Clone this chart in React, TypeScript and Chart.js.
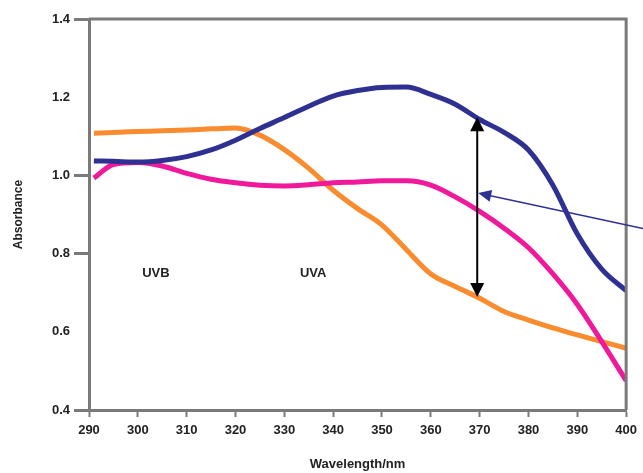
import React, { useEffect, useRef } from "react";
import { Chart, registerables } from "chart.js";

Chart.register(...registerables);

// Wavelength (nm) sample positions shared by the three spectra
const wavelengths = [291, 295, 300, 305, 310, 315, 320, 325, 330, 335, 340, 345, 350, 355, 360, 365, 370, 375, 380, 385, 390, 395, 400];

// Absorbance values
const blueSeries = [1.037, 1.036, 1.034, 1.038, 1.048, 1.065, 1.090, 1.120, 1.148, 1.177, 1.203, 1.217, 1.225, 1.226, 1.207, 1.182, 1.143, 1.110, 1.065, 0.975, 0.850, 0.760, 0.705];
const pinkSeries = [0.993, 1.028, 1.033, 1.024, 1.005, 0.990, 0.981, 0.975, 0.973, 0.976, 0.981, 0.983, 0.986, 0.986, 0.975, 0.945, 0.908, 0.865, 0.815, 0.748, 0.670, 0.575, 0.475];
const orangeSeries = [1.108, 1.110, 1.112, 1.114, 1.116, 1.119, 1.121, 1.103, 1.066, 1.018, 0.962, 0.915, 0.873, 0.810, 0.748, 0.716, 0.686, 0.652, 0.630, 0.610, 0.592, 0.575, 0.558];

// Axis ranges and tick labels
const xMin = 290;
const xMax = 400;
const xStep = 10;
const yMin = 0.4;
const yMax = 1.4;
const yStep = 0.2;
const yLongTicks = [1.4, 1.0, 0.8, 0.4];

// Annotations
const arrowWavelength = 369.5;
const arrowTop = 1.149;
const arrowBottom = 0.689;
const pointerValue = 0.955;
const bandLabels = ["UVB", "UVA"];
const bandLabelX = [303.7, 335.9];
const bandLabelY = 0.75;

const BLUE = "#2e3192";
const PINK = "#f0199c";
const ORANGE = "#fb8b2f";
const AXIS = "#7a7a7a";
const TEXT = "#222222";
const FONT = "Liberation Sans, Arial, sans-serif";

const toPoints = (vals: number[]) => vals.map((v, i) => ({ x: wavelengths[i], y: v }));

const annotationPlugin = {
  id: "annot",
  afterDatasetsDraw(chart: any) {
    const { ctx, chartArea, scales } = chart;
    const xs = scales.x;
    const ys = scales.y;
    ctx.save();
    // top and right frame
    ctx.strokeStyle = AXIS;
    ctx.lineWidth = 3;
    ctx.beginPath();
    ctx.moveTo(chartArea.left, chartArea.top);
    ctx.lineTo(chartArea.right, chartArea.top);
    ctx.lineTo(chartArea.right, chartArea.bottom);
    ctx.stroke();

    // double arrow
    const ax = xs.getPixelForValue(arrowWavelength);
    const at = ys.getPixelForValue(arrowTop);
    const ab = ys.getPixelForValue(arrowBottom);
    ctx.strokeStyle = "#000";
    ctx.fillStyle = "#000";
    ctx.lineWidth = 2;
    ctx.beginPath();
    ctx.moveTo(ax, at + 8);
    ctx.lineTo(ax, ab - 8);
    ctx.stroke();
    ctx.beginPath();
    ctx.moveTo(ax, at);
    ctx.lineTo(ax - 7, at + 14);
    ctx.lineTo(ax + 7, at + 14);
    ctx.closePath();
    ctx.fill();
    ctx.beginPath();
    ctx.moveTo(ax, ab);
    ctx.lineTo(ax - 7, ab - 14);
    ctx.lineTo(ax + 7, ab - 14);
    ctx.closePath();
    ctx.fill();

    // pointer arrow from the right edge
    const py = ys.getPixelForValue(pointerValue);
    const ex = chart.width;
    const ey = py + (ex - ax) * 0.215;
    const ang = Math.atan2(ey - py, ex - ax);
    ctx.strokeStyle = BLUE;
    ctx.fillStyle = BLUE;
    ctx.lineWidth = 1.5;
    ctx.beginPath();
    ctx.moveTo(ax + 10 * Math.cos(ang), py + 10 * Math.sin(ang));
    ctx.lineTo(ex, ey);
    ctx.stroke();
    const hl = 14;
    const hw = 6;
    const bx = ax + hl * Math.cos(ang);
    const by = py + hl * Math.sin(ang);
    ctx.beginPath();
    ctx.moveTo(ax + 1, py);
    ctx.lineTo(bx - hw * Math.sin(ang), by + hw * Math.cos(ang));
    ctx.lineTo(bx + hw * Math.sin(ang), by - hw * Math.cos(ang));
    ctx.closePath();
    ctx.fill();

    // band labels
    ctx.fillStyle = TEXT;
    ctx.font = `bold 13px ${FONT}`;
    ctx.textAlign = "center";
    ctx.textBaseline = "middle";
    bandLabels.forEach((t, i) => {
      ctx.fillText(t, xs.getPixelForValue(bandLabelX[i]), ys.getPixelForValue(bandLabelY));
    });
    ctx.restore();
  },
};

export default function App() {
  const ref = useRef<HTMLCanvasElement | null>(null);
  useEffect(() => {
    if (!ref.current) return;
    const chart = new Chart(ref.current, {
      type: "line",
      data: {
        datasets: [
          { label: "Blue", data: toPoints(blueSeries), borderColor: BLUE, borderWidth: 5, pointRadius: 0, cubicInterpolationMode: "monotone", fill: false },
          { label: "Pink", data: toPoints(pinkSeries), borderColor: PINK, borderWidth: 5, pointRadius: 0, cubicInterpolationMode: "monotone", fill: false },
          { label: "Orange", data: toPoints(orangeSeries), borderColor: ORANGE, borderWidth: 5, pointRadius: 0, cubicInterpolationMode: "monotone", fill: false },
        ],
      },
      options: {
        responsive: false,
        animation: false,
        devicePixelRatio: 1,
        layout: { padding: { top: 19, right: 15, left: 0, bottom: 0 } },
        plugins: { legend: { display: false }, tooltip: { enabled: false } },
        scales: {
          x: {
            type: "linear",
            min: xMin,
            max: xMax,
            afterFit: (s: any) => { s.height = 63; },
            ticks: { stepSize: xStep, color: TEXT, font: { family: FONT, size: 13, weight: "bold" }, padding: 6, maxRotation: 0 },
            grid: { drawOnChartArea: false, drawTicks: true, tickLength: 7, tickColor: AXIS, tickWidth: 2 },
            border: { display: true, color: AXIS, width: 3 },
            title: { display: true, text: "Wavelength/nm", color: TEXT, font: { family: FONT, size: 13, weight: "bold" }, padding: { top: 0, bottom: 1 } },
          },
          y: {
            type: "linear",
            min: yMin,
            max: yMax,
            afterFit: (s: any) => { s.width = 89; },
            ticks: { stepSize: yStep, color: TEXT, font: { family: FONT, size: 13, weight: "bold" }, padding: 4, callback: (v: any) => Number(v).toFixed(1) },
            grid: {
              drawOnChartArea: false,
              drawTicks: true,
              tickLength: 15,
              tickWidth: 3,
              tickColor: (c: any) => (c.tick && yLongTicks.some((t) => Math.abs(t - c.tick.value) < 1e-6) ? AXIS : "rgba(0,0,0,0)"),
            },
            border: { display: true, color: AXIS, width: 3 },
            title: { display: true, text: "Absorbance", color: TEXT, font: { family: FONT, size: 12, weight: "bold" }, padding: { top: 11, bottom: 0 } },
          },
        },
      },
      plugins: [annotationPlugin],
    } as any);
    return () => chart.destroy();
  }, []);
  return (
    <div style={{ position: "fixed", left: 0, top: 0, width: 643, height: 473, background: "#fff" }}>
      <canvas ref={ref} width={643} height={473} style={{ display: "block" }} />
    </div>
  );
}
